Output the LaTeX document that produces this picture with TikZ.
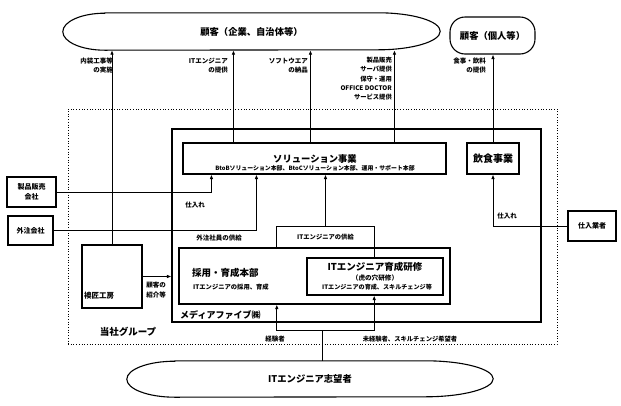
\documentclass[tikz,border=0pt]{standalone}
\usepackage{fontspec}
\setmainfont{Noto Sans CJK JP}
\usetikzlibrary{arrows.meta,shapes.geometric}
\newcommand\myfs[1]{\fontsize{#1}{#1}\selectfont}
\begin{document}
\begin{tikzpicture}[x=1pt,y=-1pt,
  box/.style={draw,line width=1.1pt,rectangle,inner sep=0pt},
  conn/.style={line width=0.9pt},
  arr/.style={conn,-{Latex[length=4.5pt,width=3.6pt]}},
  lbl/.style={font=\bfseries\fontsize{6.5}{9.6}\selectfont,inner sep=0pt},
  title/.style={font=\bfseries\myfs{9.3},inner sep=0pt}]
\useasboundingbox (0,0) rectangle (621,405);
% group (dotted)
\node[draw,dotted,line width=0.7pt,minimum width=489pt,minimum height=235pt] (grp) at (312.5,226.5) {};
% media five
\node[box,minimum width=369pt,minimum height=193pt] (mf) at (356.5,225.5) {};
% top customers
\node[rectangle,inner sep=0pt,minimum width=377pt,minimum height=37pt,title] (cust) at (251.5,31.5) {顧客（企業、自治体等）};
\draw[line width=1.1pt] ([xshift=42pt]cust.north west) -- ([xshift=-62pt]cust.north east)
  arc[start angle=90,end angle=-90,x radius=62pt,y radius=18.5pt]
  -- ([xshift=42pt]cust.south west)
  arc[start angle=270,end angle=90,x radius=42pt,y radius=18.5pt] -- cycle;
\node[draw,line width=1.1pt,rounded corners=15pt,minimum width=85pt,minimum height=37pt,title] (indiv) at (492.5,35.5) {顧客（個人等）};
% boxes
\node[box,minimum width=263pt,minimum height=31pt] (sol) at (314.5,158.5) {};
\node[title] at (315,159) {ソリューション事業};
\node[font=\bfseries\myfs{5.9},inner sep=0pt] at (315,168.5) {BtoBソリューション本部、BtoCソリューション本部、運用・サポート本部};
\node[box,minimum width=52pt,minimum height=31pt,font=\bfseries\myfs{10}] (food) at (493,158.5) {飲食事業};
\node[box,minimum width=49pt,minimum height=30pt,lbl,font=\bfseries\fontsize{7}{10}\selectfont,align=center] (seihin) at (31.5,192) {製品販売\\会社};
\node[box,minimum width=45pt,minimum height=29pt,font=\bfseries\myfs{7}] (gaichu) at (30.5,230.5) {外注会社};
\node[box,minimum width=48pt,minimum height=30pt,font=\bfseries\myfs{7}] (shiire) at (592,226) {仕入業者};
\node[box,minimum width=60pt,minimum height=63pt] (fusuma) at (112,276.5) {};
\node[font=\bfseries\myfs{7.5},inner sep=0pt,anchor=west] at (84,296) {襖匠工房};
\node[box,minimum width=271pt,minimum height=56pt] (saiyo) at (314.5,276) {};
\node[font=\bfseries\myfs{9.5},inner sep=0pt,anchor=west] at (192,273) {採用・育成本部};
\node[font=\bfseries\myfs{6.3},inner sep=0pt,anchor=west] at (193,287) {ITエンジニアの採用、育成};
\node[box,minimum width=136pt,minimum height=37pt] (kensyu) at (375,276.5) {};
\node[font=\bfseries\myfs{9.5},inner sep=0pt] at (375,267) {ITエンジニア育成研修};
\node[font=\bfseries\myfs{6.6},inner sep=0pt] at (375,277.5) {（虎の穴研修）};
\node[font=\bfseries\myfs{6.1},inner sep=0pt] at (377,287) {ITエンジニアの育成、スキルチェンジ等};
% supply box
\node[inner sep=0pt,minimum width=97pt,minimum height=21pt,font=\bfseries\myfs{6.3}] (sup) at (325.5,237.5) {ITエンジニアの供給};
\draw[line width=1.1pt] (sup.south west) -- (sup.north west) -- (sup.north east) -- (sup.south east) -- (sup.east |- kensyu.north);
% bottom aspirants
\node[rectangle,inner sep=0pt,minimum width=366pt,minimum height=36pt,title] (aspir) at (310,379) {ITエンジニア志望者};
\draw[line width=1.1pt] ([xshift=48pt]aspir.north west) -- ([xshift=-68pt]aspir.north east)
  arc[start angle=90,end angle=-90,x radius=68pt,y radius=18pt]
  -- ([xshift=48pt]aspir.south west)
  arc[start angle=270,end angle=90,x radius=48pt,y radius=18pt] -- cycle;
% labels inside group
\node[font=\bfseries\myfs{9},inner sep=0pt,anchor=west] at (180,315) {メディアファイブ㈱};
\node[font=\bfseries\myfs{9.5},inner sep=0pt] at (128,332) {当社グループ};
% connectors up
\coordinate (a2) at ([xshift=51pt]sol.north west);
\coordinate (a3) at ([xshift=128pt]sol.north west);
\coordinate (a4) at ([xshift=212pt]sol.north west);
\draw[arr] (fusuma.north) -- (fusuma.north |- cust.south);
\draw[arr] (a2) -- (a2 |- cust.south);
\draw[arr] (a3) -- (a3 |- cust.south);
\draw[arr] (a4) -- (a4 |- cust.south);
\draw[arr] (food.north) -- (food.north |- indiv.south);
\node[lbl,align=right,anchor=north east] at (113,57.5) {内装工事等\\の実施};
\node[lbl,align=right,anchor=north east] at (228,57.5) {ITエンジニア\\の提供};
\node[lbl,align=right,anchor=north east] at (308,57.5) {ソフトウエア\\の納品};
\node[lbl,align=right,anchor=north east,font=\bfseries\fontsize{6.3}{9.3}\selectfont] at (392,57) {製品販売\\サーバ提供\\保守・運用\\OFFICE DOCTOR\\サービス提供};
\node[lbl,align=right,anchor=north east] at (486,57.5) {食事・飲料\\の提供};
% suppliers
\coordinate (b1) at ([xshift=29pt]sol.south west);
\coordinate (b2) at ([xshift=74pt]sol.south west);
\draw[arr] (seihin.east) -| (b1);
\draw[arr] (gaichu.east) -| (b2);
\draw[arr] (shiire.west) -| (food.south);
\node[lbl] at (195,205) {仕入れ};
\node[lbl] at (219,238) {外注社員の供給};
\node[lbl] at (507,216) {仕入れ};
% fusuma to mf
\draw[arr] (fusuma.east) -- (mf.west |- fusuma.east);
\node[lbl,align=center] at (156,290) {顧客の\\紹介等};
% supply up
\draw[arr] (sup.north) -- (sup.north |- sol.south);
% aspirants
\coordinate (c0) at ([xshift=12pt]aspir.north);
\coordinate (c1) at (322,330);
\draw[conn] (c0) -- (c1);
\draw[arr] (c1) -| (sup.west |- saiyo.south);
\draw[arr] (c1) -| (sup.east |- kensyu.south);
\node[lbl] at (275,339) {経験者};
\node[lbl,font=\bfseries\myfs{6.3}] at (410,339) {未経験者、スキルチェンジ希望者};
\end{tikzpicture}
\end{document}
